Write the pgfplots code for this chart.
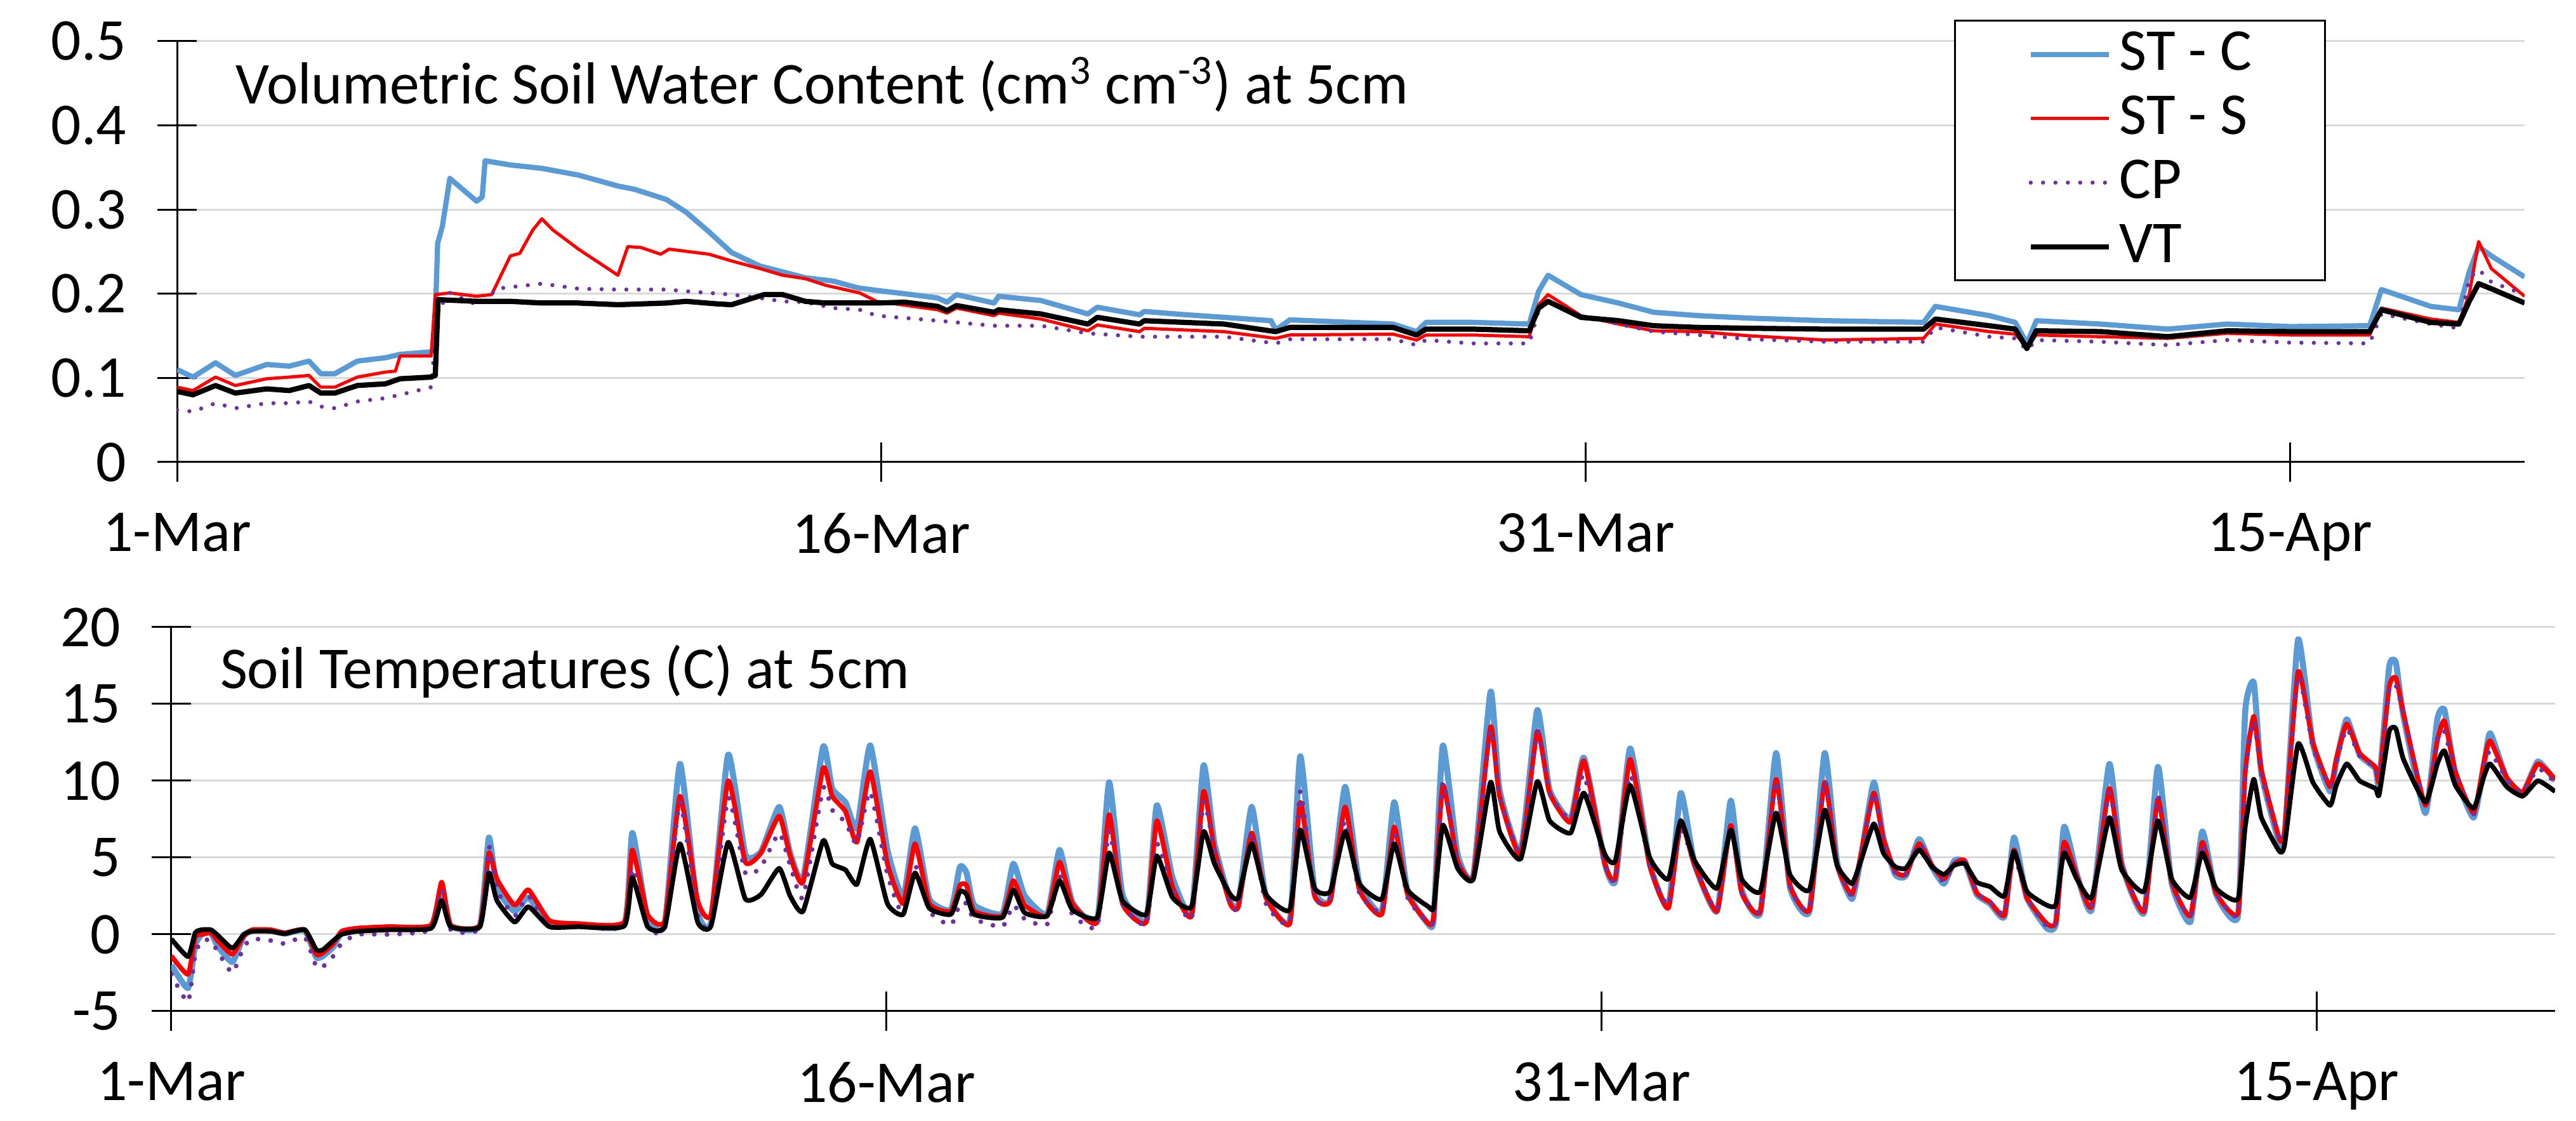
\documentclass[border=0pt]{standalone}
\usepackage{pgfplots}
\pgfplotsset{compat=1.18}
\usepackage{pgfplotstable}
\usepackage{fontspec}
\setmainfont{Carlito}

\definecolor{stc}{HTML}{5B9BD5}
\definecolor{sts}{HTML}{FF0000}
\definecolor{cpc}{HTML}{7030A0}
\definecolor{gridc}{HTML}{D9D9D9}

\newcommand{\lbl}{\fontsize{18.7}{22}\selectfont}

% soil temperature at 5 cm: day after 1-Mar, ST-C, ST-S, CP, VT
\pgfplotstableread{
d      c     s     p     v
0     -2.0  -1.4  -2.6  -0.3
0.35  -3.5  -2.6  -4.4  -1.45
0.5   -0.7  -0.2  -1.3   0.1
0.64   0.0   0.0  -0.4   0.3
0.83   0.1   0.1  -0.4   0.3
0.97  -0.75 -0.4  -1.1  -0.05
1.28  -1.8  -1.3  -2.5  -0.9
1.52  -0.1  -0.1  -0.8   0.0
1.7    0.25  0.3  -0.3   0.2
2.08   0.25  0.3  -0.4   0.2
2.38   0.05  0.1  -0.6   0.05
2.8    0.25  0.3  -0.2   0.3
3.04  -1.5  -1.3  -2.1  -1.0
3.18  -1.4  -1.2  -2.1  -1.0
3.4   -0.8  -0.6  -1.4  -0.4
3.57   0.1   0.2  -0.6   0.0
3.9    0.35  0.4   0.0   0.2
4.56   0.45  0.5   0.0   0.3
5.45   0.55  0.6   0.3   0.4
5.67   3.1   3.4   2.9   2.2
5.86   0.55  0.6   0.3   0.5
6.47   0.55  0.6   0.4   0.5
6.66   6.3   5.3   5.7   4.0
6.83   3.0   3.6   2.9   2.2
7.2    1.5   1.9   1.2   0.8
7.49   2.4   2.9   2.5   1.8
7.93   0.7   0.9   0.5   0.5
8.53   0.6   0.7   0.5   0.5
9.5    0.65  0.8   0.5   0.55
9.67   6.6   5.5   4.3   3.7
9.99   1.0   1.3   0.5   0.5
10.35  0.65  0.9   0.4   0.5
10.67 11.1   9.0   8.6   5.9
11.04  1.5   2.2   1.3   0.8
11.32  0.8   1.3   0.6   0.55
11.68 11.7  10.0   8.9   6.0
12.04  5.2   4.7   4.0   2.3
12.37  5.4   5.3   4.4   2.6
12.75  8.3   7.7   6.6   4.3
12.98  5.3   5.1   4.5   2.5
13.25  3.6   3.4   2.4   1.5
13.67 12.2  10.8   9.5   6.1
13.86  9.5   9.0   8.1   4.6
14.14  8.6   8.0   7.3   4.2
14.38  6.9   6.0   5.9   3.25
14.66 12.3  10.6   9.3   6.2
15.02  5.5   4.6   3.9   2.0
15.35  2.4   2.0   1.25  1.3
15.6   6.9   5.9   4.5   4.0
15.9   2.3   2.0   1.5   1.7
16.35  1.6   1.5   0.6   1.3
16.54  4.4   3.2   2.0   2.8
16.68  4.0   3.2   2.0   2.6
16.84  1.9   1.5   1.0   1.3
17.43  1.35  1.2   0.5   1.1
17.66  4.6   3.5   1.9   2.9
17.9   2.5   1.9   1.0   1.4
18.37  1.3   1.2   0.65  1.2
18.63  5.5   4.7   3.8   3.5
18.9   2.1   2.0   1.3   1.6
19.42  0.9   0.8   0.5   1.1
19.67  9.9   7.8   6.7   5.3
19.95  2.6   2.0   2.0   2.2
20.45  0.9   0.8   0.65  1.3
20.67  8.4   7.4   5.9   5.1
21.0   3.7   3.1   2.9   2.4
21.4   1.35  1.2   1.0   1.8
21.65 11.0   9.3   8.6   6.7
21.88  5.9   5.5   5.5   4.6
22.21  2.2   2.0   1.9   2.6
22.38  1.9   1.8   1.8   2.4
22.66  8.3   6.6   6.6   5.9
22.96  2.5   2.4   2.0   2.6
23.46  0.9   0.7   0.8   1.6
23.68 11.6   8.6   9.3   6.8
23.98  2.9   2.5   2.4   3.0
24.31  2.3   2.2   2.4   2.8
24.62  9.6   8.3   7.4   6.7
24.92  3.3   2.9   2.7   3.3
25.39  1.5   1.3   1.5   2.3
25.65  8.6   7.0   6.6   5.9
25.93  2.8   2.6   2.4   2.9
26.37  0.65  0.7   0.7   1.8
26.48  1.1   1.2   1.2   1.8
26.67 12.3   9.7   9.9   7.1
26.98  5.2   4.8   4.8   4.3
27.31  3.8   3.8   3.8   3.6
27.67 15.8  13.5  13.3   9.9
27.86  9.4   9.0   9.0   6.7
28.3   5.4   5.2   5.4   4.9
28.65 14.6  13.2  13.2   9.95
28.91  9.4   9.2   9.2   7.4
29.35  7.5   7.3   7.5   6.6
29.63 11.5  11.3  10.4   9.2
30.07  4.6   4.6   4.5   5.2
30.29  3.5   3.7   3.6   4.8
30.6  12.1  11.4  10.4   9.7
31.01  4.6   4.5   4.5   5.0
31.4   1.8   1.7   1.9   3.6
31.66  9.2   7.25  6.9   7.4
31.95  4.6   4.5   4.5   4.8
32.42  1.5   1.5   1.6   3.0
32.71  8.7   7.1   7.1   6.8
32.94  2.9   2.7   2.7   3.6
33.33  1.4   1.5   1.6   2.8
33.66 11.8  10.1  10.0   7.9
33.95  3.1   3.25  3.1   3.9
34.36  1.5   1.6   1.7   2.9
34.68 11.8   9.9  10.0   8.1
34.94  4.7   4.5   4.5   4.5
35.25  2.3   2.6   2.5   3.3
35.44  5.0   5.2   5.2   4.8
35.71  9.9   9.2   9.2   7.2
35.91  6.3   6.2   6.0   5.3
36.16  3.9   4.1   4.0   4.4
36.38  3.8   3.9   3.9   4.3
36.66  6.2   5.9   5.9   5.5
36.93  4.4   4.5   4.5   4.4
37.18  3.3   3.6   3.4   3.9
37.4   4.8   4.6   4.6   4.5
37.62  4.7   4.8   4.8   4.6
37.87  2.6   2.7   2.7   3.4
38.15  2.0   2.1   2.1   3.1
38.45  1.15  1.25  1.35  2.5
38.65  6.3   5.5   5.1   5.4
38.92  2.4   2.4   2.4   2.8
39.34  0.4   0.7   0.5   1.9
39.53  0.7   0.8   0.8   1.95
39.7   7.0   6.0   5.5   5.3
39.97  3.9   3.8   3.8   3.6
40.28  1.6   1.8   1.9   2.4
40.65 11.1   9.5   9.2   7.6
40.91  4.6   4.5   4.5   4.2
41.38  1.4   1.5   1.6   2.8
41.67 10.9   8.8   9.0   7.4
41.96  3.3   3.4   3.4   3.6
42.35  0.8   1.2   1.2   2.4
42.6   6.7   6.0   5.9   5.3
42.89  2.6   2.7   2.7   3.0
43.35  1.2   1.4   1.3   2.3
43.5  14.5  10.5  10.3   7.0
43.68 16.4  14.2  13.9  10.1
43.84 10.5  10.7  10.4   7.6
44.22  5.9   6.2   6.2   5.4
44.33  6.4   6.9   6.9   5.9
44.61 19.2  17.1  16.8  12.4
44.92 12.4  12.5  12.2   9.9
45.28  9.3   9.6   9.6   8.4
45.41 11.2  11.4  11.2   9.7
45.63 14.0  13.7  13.4  11.1
45.9  11.7  11.8  11.6  10.0
46.23 10.8  10.9  10.9   9.5
46.31  9.8  10.0  10.0   9.1
46.52 17.4  16.1  15.9  13.2
46.66 17.7  16.7  16.2  13.4
46.82 14.2  14.4  14.4  11.4
47.28  7.9   8.4   8.4   8.6
47.53 14.0  12.6  12.8  11.1
47.68 14.6  13.9  13.2  11.95
47.91 10.4  10.6  10.5   9.7
48.29  7.6   7.9   7.8   8.2
48.51 11.0  11.25 11.0  10.3
48.64 13.1  12.6  11.9  11.1
48.99 10.1  10.2  10.1   9.6
49.32  9.2   9.25  9.2   9.0
49.64 11.25 11.1  10.8  10.0
50.0  10.0  10.1   9.9   9.3
}\temps

\pgfplotsset{
  soil/.style={
    scale only axis,
    xmin=0, xmax=50,
    axis x line*=bottom, axis y line*=left,
    axis line style={black, line width=0.6pt, -},
    xtick={0,15,30,45},
    xticklabels={1-Mar,16-Mar,31-Mar,15-Apr},
    minor tick num=0,
    tick align=center,
    major tick length=12.4pt,
    tick style={black, line width=0.6pt},
    ymajorgrids,
    major grid style={gridc, line width=0.6pt},
    ticklabel style={font=\lbl},
    xticklabel style={yshift=-6.4pt},
    yticklabel style={xshift=-6.2pt},
    every axis plot/.append style={no markers, line join=round},
  },
}

\begin{document}
\begin{tikzpicture}
\useasboundingbox (0,0) rectangle (811.8pt,353.2pt);

% volumetric soil water content
\begin{axis}[soil,
  at={(55.8pt,207.6pt)}, anchor=south west,
  width=739.8pt, height=132.6pt,
  ymin=0, ymax=0.5,
  ytick={0,0.1,0.2,0.3,0.4,0.5},
  yticklabels={0,0.1,0.2,0.3,0.4,0.5},
  legend cell align=left,
  legend image code/.code={\draw[#1] (0pt,0pt) -- (24.6pt,0pt);},
  legend style={at={(0.757,1.051)}, anchor=north west,
    draw=black, line width=0.6pt, font=\lbl,
    inner xsep=23pt, inner ysep=0.5pt, column sep=2.6pt, row sep=0pt,
    nodes={inner xsep=0pt, inner ysep=1pt, text height=14pt, text depth=4.2pt}},
]
\addplot[stc, line width=1.65pt] coordinates {
(0,0.110) (0.34,0.101) (0.82,0.118) (1.24,0.103) (1.91,0.116) (2.39,0.114)
(2.81,0.120) (3.06,0.105) (3.36,0.105) (3.84,0.120) (4.44,0.124) (4.75,0.128)
(5.41,0.131) (5.48,0.135) (5.55,0.26) (5.65,0.28) (5.81,0.337) (6.38,0.310)
(6.5,0.315) (6.56,0.358) (7.1,0.353) (7.77,0.349) (8.55,0.341) (9.39,0.328)
(9.75,0.324) (10.42,0.312) (10.84,0.297) (11.3,0.275) (11.81,0.249) (12.41,0.233)
(12.9,0.226) (13.38,0.219) (13.98,0.215) (14.5,0.207) (14.9,0.204) (15.5,0.200)
(16.2,0.195) (16.4,0.190) (16.6,0.199) (17.4,0.189) (17.5,0.197) (18.4,0.192)
(19.4,0.176) (19.6,0.184) (20.5,0.175) (20.6,0.179) (21.5,0.175) (22.3,0.172)
(23.3,0.168) (23.4,0.157) (23.7,0.169) (25.0,0.166) (25.9,0.164) (26.4,0.155)
(26.6,0.166) (27.6,0.166) (28.8,0.164) (29.0,0.203) (29.2,0.222) (29.9,0.199)
(30.7,0.189) (31.45,0.178) (32.4,0.174) (33.5,0.171) (35.1,0.168) (37.2,0.166)
(37.45,0.185) (38.6,0.174) (39.15,0.166) (39.4,0.141) (39.6,0.168) (40.97,0.164)
(42.4,0.158) (43.66,0.164) (45,0.161) (46.7,0.162) (46.95,0.205) (48.0,0.185)
(48.6,0.181) (48.82,0.226) (49.02,0.256) (49.29,0.245) (50.0,0.220)
};
\addlegendentry{ST - C}
\addplot[sts, line width=1.0pt] coordinates {
(0,0.089) (0.34,0.085) (0.82,0.101) (1.24,0.091) (1.91,0.099) (2.39,0.101)
(2.81,0.103) (3.06,0.089) (3.36,0.089) (3.84,0.101) (4.44,0.107) (4.65,0.108)
(4.75,0.126) (5.41,0.126) (5.5,0.199) (5.81,0.201) (6.38,0.197) (6.7,0.199)
(7.1,0.245) (7.3,0.248) (7.58,0.276) (7.77,0.289) (8.0,0.276) (8.55,0.253)
(9.39,0.222) (9.6,0.256) (9.88,0.255) (10.3,0.247) (10.48,0.253) (11.33,0.247)
(11.81,0.239) (12.41,0.230) (12.9,0.222) (13.38,0.218) (13.82,0.210) (14.54,0.201)
(14.9,0.191) (16.2,0.181) (16.4,0.177) (16.6,0.183) (17.4,0.174) (17.5,0.177)
(18.4,0.170) (19.4,0.156) (19.6,0.163) (20.5,0.155) (20.6,0.159) (22.3,0.155)
(23.4,0.147) (23.7,0.151) (25.9,0.152) (26.4,0.145) (26.6,0.151) (27.6,0.151)
(28.8,0.149) (29.0,0.187) (29.2,0.199) (29.9,0.174) (30.7,0.164) (31.45,0.156)
(32.4,0.155) (33.5,0.150) (35.1,0.145) (37.2,0.147) (37.45,0.164) (38.6,0.155)
(39.15,0.152) (39.4,0.137) (39.6,0.151) (40.97,0.149) (42.4,0.147) (43.66,0.153)
(45,0.151) (46.7,0.151) (46.95,0.183) (48.0,0.170) (48.6,0.166) (48.82,0.199)
(49.02,0.262) (49.29,0.230) (50.0,0.197)
};
\addlegendentry{ST - S}
\addplot[cpc, line width=1.3pt, line cap=round, dash pattern=on 0pt off 3.9pt] coordinates {
(0,0.062) (0.34,0.060) (0.82,0.070) (1.24,0.064) (1.91,0.070) (2.39,0.070)
(2.81,0.072) (3.06,0.066) (3.36,0.064) (3.84,0.072) (4.44,0.076) (4.75,0.080)
(5.41,0.089) (5.55,0.180) (5.81,0.201) (6.38,0.187) (6.6,0.193) (6.8,0.206)
(7.77,0.212) (8.55,0.206) (9.39,0.205) (10.42,0.205) (10.84,0.203) (11.81,0.199)
(12.41,0.195) (12.9,0.191) (13.38,0.190) (13.98,0.183) (14.54,0.181) (14.9,0.174)
(16.2,0.168) (17.4,0.162) (18.4,0.162) (19.4,0.153) (20.5,0.149) (22.3,0.149)
(23.4,0.141) (23.7,0.146) (25.9,0.146) (26.4,0.139) (26.6,0.145) (27.6,0.141)
(28.8,0.141) (29.0,0.180) (29.2,0.191) (29.9,0.174) (30.7,0.164) (31.45,0.155)
(32.4,0.151) (33.5,0.146) (35.1,0.143) (37.2,0.143) (37.45,0.160) (38.6,0.149)
(39.15,0.147) (39.4,0.133) (39.6,0.145) (40.97,0.143) (42.4,0.139) (43.66,0.145)
(45,0.142) (46.7,0.141) (46.95,0.176) (48.0,0.164) (48.6,0.159) (48.82,0.218)
(49.02,0.229) (49.29,0.214) (50.0,0.199)
};
\addlegendentry{CP}
\addplot[black, line width=1.65pt] coordinates {
(0,0.084) (0.34,0.080) (0.82,0.091) (1.24,0.082) (1.91,0.087) (2.39,0.085)
(2.81,0.091) (3.06,0.082) (3.36,0.082) (3.84,0.091) (4.44,0.093) (4.75,0.099)
(5.41,0.101) (5.5,0.103) (5.56,0.193) (6.38,0.191) (7.1,0.191) (7.77,0.189)
(8.55,0.189) (9.39,0.187) (10.42,0.189) (10.84,0.191) (11.5,0.188) (11.81,0.187)
(12.5,0.199) (12.9,0.199) (13.38,0.191) (13.82,0.189) (14.9,0.189) (15.5,0.190)
(16.2,0.185) (16.4,0.180) (16.6,0.186) (17.4,0.178) (17.5,0.181) (18.4,0.176)
(19.4,0.164) (19.6,0.172) (20.5,0.164) (20.6,0.168) (22.3,0.164) (23.4,0.155)
(23.7,0.160) (25.9,0.160) (26.4,0.151) (26.6,0.158) (27.6,0.158) (28.8,0.156)
(29.0,0.183) (29.2,0.191) (29.9,0.172) (30.7,0.168) (31.45,0.162) (32.4,0.160)
(33.5,0.159) (35.1,0.158) (37.2,0.158) (37.45,0.170) (38.6,0.162) (39.15,0.158)
(39.4,0.135) (39.6,0.156) (40.97,0.155) (42.4,0.149) (43.66,0.156) (45,0.155)
(46.7,0.155) (46.95,0.181) (48.0,0.166) (48.6,0.164) (48.82,0.191) (49.02,0.212)
(49.29,0.206) (50.0,0.189)
};
\addlegendentry{VT}
\end{axis}

% soil temperature
\begin{axis}[soil,
  at={(54pt,34.6pt)}, anchor=south west,
  width=751.2pt, height=121pt,
  ymin=-5, ymax=20,
  ytick={-5,0,5,10,15,20},
  yticklabels={-5,0,5,10,15,20},
]
\addplot[stc, line width=1.9pt, smooth, tension=0.3] table[x=d, y=c] {\temps};
\addplot[sts, line width=1.5pt, smooth, tension=0.3] table[x=d, y=s] {\temps};
\addplot[cpc, line width=1.5pt, line cap=round, dash pattern=on 0pt off 4pt, smooth, tension=0.3] table[x=d, y=p] {\temps};
\addplot[black, line width=1.5pt, smooth, tension=0.3] table[x=d, y=v] {\temps};
\end{axis}

\node[anchor=base west, font=\lbl, inner sep=0pt] at (74pt,320.4pt)
  {Volumetric Soil Water Content (cm\textsuperscript{3} cm\textsuperscript{-3}) at 5cm};
\node[anchor=base west, font=\lbl, inner sep=0pt] at (69.2pt,136.2pt)
  {Soil Temperatures (C) at 5cm};
\end{tikzpicture}
\end{document}
